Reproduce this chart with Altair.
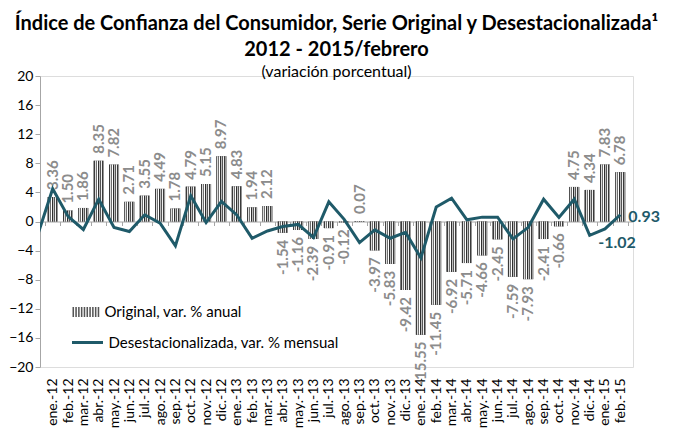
import altair as alt
import pandas as pd

months = ["ene.-12", "feb.-12", "mar.-12", "abr.-12", "may.-12", "jun.-12", "jul.-12", "ago.-12",
          "sep.-12", "oct.-12", "nov.-12", "dic.-12",
          "ene.-13", "feb.-13", "mar.-13", "abr.-13", "may.-13", "jun.-13", "jul.-13", "ago.-13",
          "sep.-13", "oct.-13", "nov.-13", "dic.-13",
          "ene.-14", "feb.-14", "mar.-14", "abr.-14", "may.-14", "jun.-14", "jul.-14", "ago.-14",
          "sep.-14", "oct.-14", "nov.-14", "dic.-14",
          "ene.-15", "feb.-15"]

original = [3.36, 1.50, 1.86, 8.35, 7.82, 2.71, 3.55, 4.49, 1.78, 4.79, 5.15, 8.97,
            4.83, 1.94, 2.12, -1.54, -1.16, -2.39, -0.91, -0.12, 0.07, -3.97, -5.83, -9.42,
            -15.55, -11.45, -6.92, -5.71, -4.66, -2.45, -7.59, -7.93, -2.41, -0.66, 4.75, 4.34,
            7.83, 6.78]

desest = [4.5, 0.7, -1.1, 3.07, -0.83, -1.38, 0.92, -0.23, -3.35, 3.53, -0.14, 2.75,
          0.9, -2.3, -1.3, -0.7, -0.4, -2.2, 2.7, 0.3, -2.9, -1.15, -2.3, -1.5,
          -5.0, 2.0, 3.2, 0.23, 0.6, 0.6, -2.4, -0.8, 3.07, 0.55, 3.07, -1.9,
          -1.02, 0.93]
desest_prev = -2.0  # dic.-11, only the segment entering at the left edge is visible

serie_orig = "Original, var. % anual"
serie_des = "Desestacionalizada, var. % mensual"

N = len(months)
bars = pd.DataFrame({"i": list(range(N)), "mes": months, "v": original, "serie": serie_orig})
bars["lbl"] = [f"{v:.2f}" for v in original]
line = pd.DataFrame({"i": [-1] + list(range(N)), "v": [desest_prev] + desest, "serie": serie_des})
line["lbl"] = [f"{v:.2f}" for v in line["v"]]

W, H = 593, 291
FONT = "Lato"
TEAL = "#1f5a69"
LGRAY = "#a6a6a6"

xscale = alt.Scale(domain=[-0.5, N - 0.5], nice=False, zero=False)
yscale = alt.Scale(domain=[-20, 20], nice=False)

label_expr = "[" + ",".join(f"'{m}'" for m in months) + "][datum.value]"

x_labels = alt.X("i:Q", scale=xscale, axis=alt.Axis(
    values=list(range(N)), labelExpr=label_expr, labelAngle=270, ticks=False, domain=False,
    grid=False, title=None, orient="bottom", labelFontSize=14, labelFont=FONT,
    labelColor="black", labelPadding=11, labelOverlap=False))
x_zero = alt.X("i:Q", scale=xscale, axis=alt.Axis(
    values=[k - 0.5 for k in range(N + 1)], labels=False, ticks=True, tickSize=4,
    tickColor=LGRAY, domainColor=LGRAY, domain=True, grid=False, title=None,
    orient="bottom", offset=-H / 2))
x_none = alt.X("i:Q", scale=xscale, axis=None)

y_axis = alt.Axis(
    values=list(range(-20, 21, 4)), grid=False, title=None, labelFontSize=14, labelFont=FONT,
    labelColor="black", domainColor=LGRAY, tickColor=LGRAY, tickSize=5, labelPadding=2)
y_main = alt.Y("v:Q", scale=yscale, axis=y_axis)

# striped swatch path for the legend
stripes = []
for k in range(10):
    x0 = -1 + k * 0.2
    stripes.append(f"M{x0:.2f},-0.36h0.11v0.72h-0.11z")
stripe_path = " ".join(stripes)

stripe_colors = ["#3a3a3a", "#dcdcdc", "#6e6e6e", "#ffffff", "#2f2f2f",
                 "#bdbdbd", "#555555", "#f0f0f0", "#3a3a3a", "#9a9a9a"]
stops = []
for k, c in enumerate(stripe_colors):
    stops.append(alt.GradientStop(color=c, offset=k / len(stripe_colors)))
    stops.append(alt.GradientStop(color=c, offset=(k + 1) / len(stripe_colors)))
grad = alt.LinearGradient(gradient="linear", stops=stops, x1=0, x2=1, y1=0, y2=0)

bar_legend = alt.Legend(orient="none", legendX=32.5, legendY=222, title=None,
                        symbolType=stripe_path, symbolSize=784, symbolStrokeWidth=0,
                        labelFontSize=15, labelFont=FONT, labelColor="black",
                        padding=0, labelOffset=4, labelLimit=0)
line_legend = alt.Legend(orient="none", legendX=30.5, legendY=249.5, title=None,
                         symbolType="stroke", symbolSize=961, symbolStrokeWidth=3,
                         labelFontSize=15, labelFont=FONT, labelColor="black",
                         padding=0, labelOffset=4, labelLimit=0)

bar_base = alt.Chart(bars).mark_bar(width=10).encode(
    x=x_labels, y=y_main,
    fill=alt.Fill("serie:N", scale=alt.Scale(range=["#555555"]), legend=bar_legend))
bar_striped = alt.Chart(bars).mark_bar(width=10, fill=grad).encode(x=x_none, y=y_main)

lbl_pos = alt.Chart(bars).transform_filter("datum.v >= 0").mark_text(
    angle=270, align="left", baseline="middle", dx=7, font=FONT, fontWeight="bold",
    fontSize=15, color="#8c8c8c").encode(x=x_none, y=y_main, text="lbl:N")
lbl_neg = alt.Chart(bars).transform_filter("datum.v < 0").mark_text(
    angle=270, align="right", baseline="middle", dx=-7, font=FONT, fontWeight="bold",
    fontSize=15, color="#8c8c8c").encode(x=x_none, y=y_main, text="lbl:N")

line_layer = alt.Chart(line).mark_line(strokeWidth=3, clip=True).encode(
    x=x_zero, y=y_main,
    stroke=alt.Stroke("serie:N", scale=alt.Scale(range=[TEAL]), legend=line_legend))

lab_last = alt.Chart(line).transform_filter(f"datum.i == {N - 1}").mark_text(
    align="left", baseline="middle", dx=8, dy=2, font=FONT, fontWeight="bold",
    fontSize=16, color=TEAL).encode(x=x_none, y=y_main, text="lbl:N")
lab_prev = alt.Chart(line).transform_filter(f"datum.i == {N - 2}").mark_text(
    align="center", baseline="middle", dx=12, dy=14, font=FONT, fontWeight="bold",
    fontSize=16, color=TEAL).encode(x=x_none, y=y_main, text="lbl:N")

chart = alt.layer(bar_base, bar_striped, lbl_pos, lbl_neg, line_layer, lab_last, lab_prev).resolve_scale(
    x="shared", y="shared").resolve_axis(x="independent").properties(
    width=W, height=H,
    autosize=alt.AutoSizeParams(type="none"),
    padding={"left": 32, "top": 68, "right": 38, "bottom": 64},
    title=alt.Title(
        text=["Índice de Confianza del Consumidor, Serie Original y Desestacionalizada¹",
              "2012 - 2015/febrero"],
        subtitle="(variación porcentual)",
        font=FONT, fontSize=20, fontWeight="bold", color="black", lineHeight=26,
        subtitleFont=FONT, subtitleFontSize=16, subtitleColor="black", subtitlePadding=4,
        anchor="middle", offset=-11)
).configure_view(stroke=None).configure(background="white")

chart.save("out.html", embed_options={"renderer": "svg", "actions": False})
